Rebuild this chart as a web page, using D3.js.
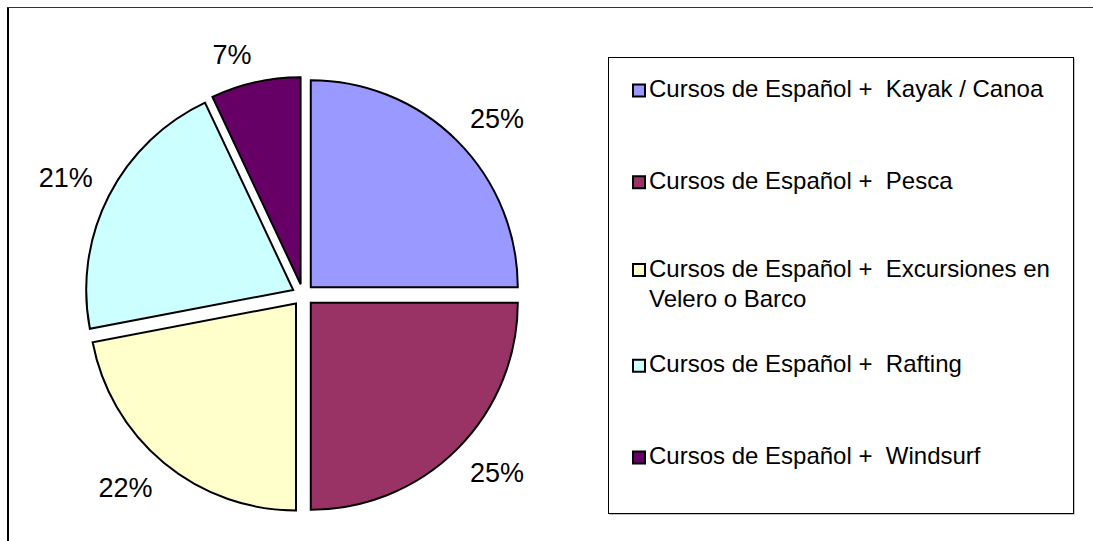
<!DOCTYPE html>
<html>
<head>
<meta charset="utf-8">
<script src="https://cdn.jsdelivr.net/npm/d3@7"></script>
<style>
  html, body { margin: 0; padding: 0; background: #fff; overflow: hidden; }
  svg { display: block; font-family: "Liberation Sans", Arial, sans-serif; }
</style>
</head>
<body>
<div id="chart"></div>
<script>
// Data
const categories = [
  "Cursos de Español +  Kayak / Canoa",
  "Cursos de Español +  Pesca",
  "Cursos de Español +  Excursiones en|Velero o Barco",
  "Cursos de Español +  Rafting",
  "Cursos de Español +  Windsurf",
];
const values = [25, 25, 22, 21, 7];
const colors = ["#9999ff", "#993366", "#ffffcc", "#ccffff", "#660066"];

const width = 1093;
const height = 541;

const svg = d3
  .select("#chart")
  .append("svg")
  .attr("width", width)
  .attr("height", height);

// Outer chart frame (only left and top edges are visible)
svg
  .append("line")
  .attr("x1", 8).attr("x2", 8)
  .attr("y1", 7).attr("y2", height)
  .style("stroke", "#000")
  .style("stroke-width", 2);
svg
  .append("line")
  .attr("x1", 7).attr("x2", width)
  .attr("y1", 7.5).attr("y2", 7.5)
  .style("stroke", "#333")
  .style("stroke-width", 1);

// Pie setup
const cx = 303;
const cy = 295;
const radius = 207;
const explode = 11;

const pie = d3
  .pie()
  .sort(null)
  .value((d) => d.value);

const slices = pie(values.map((v, i) => ({ value: v, i })));
const arc = d3.arc().innerRadius(0).outerRadius(radius);

const total = d3.sum(values);
const midAngle = (d) => (d.startAngle + d.endAngle) / 2;

const g = svg.append("g").attr("transform", `translate(${cx},${cy})`);

g.selectAll("path.slice")
  .data(slices)
  .enter()
  .append("path")
  .attr("class", "slice")
  .attr("transform", (d) => {
    const a = midAngle(d);
    return `translate(${Math.sin(a) * explode},${-Math.cos(a) * explode})`;
  })
  .attr("d", arc)
  .style("fill", (d) => colors[d.data.i])
  .style("stroke", "#000")
  .style("stroke-width", 2)
  .style("stroke-linejoin", "miter");

// Percentage labels, placed outside with the box corner touching the anchor
const labelFont = 27;
const labelR = 236;
const labels = g
  .selectAll("text.pct")
  .data(slices)
  .enter()
  .append("text")
  .attr("class", "pct")
  .style("font-size", labelFont + "px")
  .style("fill", "#000")
  .attr("text-anchor", "middle")
  .text((d) => Math.round((d.value / total) * 100) + "%");

labels.each(function (d) {
  const a = midAngle(d);
  const w = this.getComputedTextLength();
  const h = labelFont * 0.75;
  const ax = Math.sin(a) * labelR;
  const ay = -Math.cos(a) * labelR;
  const x = ax + Math.sign(Math.sin(a)) * w / 2;
  const y = ay - Math.sign(Math.cos(a)) * h / 2;
  d3.select(this)
    .attr("x", x)
    .attr("y", y + labelFont * 0.36);
});

// Legend
const legend = { x: 608, y: 57, w: 465, h: 456 };
svg
  .append("rect")
  .attr("x", legend.x + 1.5)
  .attr("y", legend.y + 1.5)
  .attr("width", legend.w)
  .attr("height", legend.h)
  .style("fill", "#888");
svg
  .append("rect")
  .attr("x", legend.x + 0.5)
  .attr("y", legend.y + 0.5)
  .attr("width", legend.w)
  .attr("height", legend.h)
  .style("fill", "#fff")
  .style("stroke", "#000")
  .style("stroke-width", 1);

const legendFont = 24;
const firstBaseline = 97;
const step = 91.75;
const lineH = 30;

const items = svg
  .selectAll("g.legend-item")
  .data(categories)
  .enter()
  .append("g")
  .attr("class", "legend-item")
  .attr("transform", (d, i) => {
    const lines = d.split("|").length;
    return `translate(0,${firstBaseline + i * step - (lines - 1) * 4})`;
  });

items
  .append("rect")
  .attr("x", 633)
  .attr("y", -12.5)
  .attr("width", 12)
  .attr("height", 12)
  .style("fill", (d, i) => colors[i])
  .style("stroke", "#000")
  .style("stroke-width", 2);

items
  .append("text")
  .style("font-size", legendFont + "px")
  .style("fill", "#000")
  .style("white-space", "pre")
  .selectAll("tspan")
  .data((d) => d.split("|"))
  .enter()
  .append("tspan")
  .attr("x", 649)
  .attr("y", (d, j) => j * lineH)
  .text((d) => d);
</script>
</body>
</html>
